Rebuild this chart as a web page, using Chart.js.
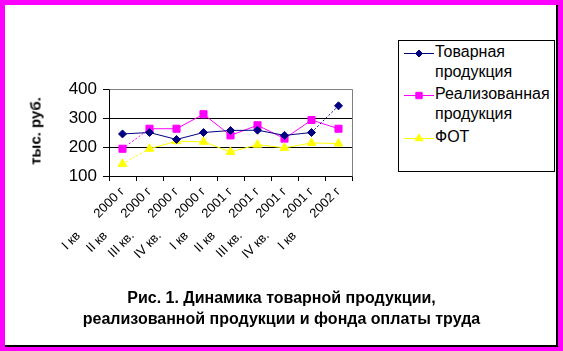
<!DOCTYPE html>
<html><head><meta charset="utf-8">
<script src="https://cdn.jsdelivr.net/npm/chart.js@4.4.1/dist/chart.umd.min.js"></script>
<style>
html,body{margin:0;padding:0;}
body{width:563px;height:351px;background:#FF00FF;position:relative;overflow:hidden;font-family:"Liberation Sans",Arial,sans-serif;}
#frame{position:absolute;left:5px;top:5px;width:553px;height:342px;background:#fff;border-right:2px solid #000;border-bottom:2px solid #000;box-sizing:border-box;}
#c{position:absolute;left:0;top:0;}
#ytitle{position:absolute;left:35px;top:131px;transform:translate(-50%,-50%) rotate(-90deg);font-weight:bold;font-size:15px;white-space:nowrap;}
#legend{position:absolute;left:398px;top:40px;width:157px;height:132px;border:1px solid #000;box-sizing:border-box;background:#fff;}
.li{position:absolute;left:36px;font-size:16px;line-height:20px;white-space:nowrap;}
.sw{position:absolute;left:5px;}
#title{position:absolute;left:0;width:563px;top:287px;text-align:center;font-weight:bold;font-size:16px;line-height:21px;}
</style></head>
<body>
<div id="frame"></div>
<canvas id="c" width="563" height="351"></canvas>
<div id="ytitle">тыс. руб.</div>
<div id="legend">
  <canvas class="sw" id="sw0" width="30" height="10" style="top:7px"></canvas>
  <div class="li" style="top:1px">Товарная<br>продукция</div>
  <canvas class="sw" id="sw1" width="30" height="10" style="top:49px"></canvas>
  <div class="li" style="top:43px">Реализованная<br>продукция</div>
  <canvas class="sw" id="sw2" width="30" height="10" style="top:92px"></canvas>
  <div class="li" style="top:86px">ФОТ</div>
</div>
<div id="title">Рис. 1. Динамика товарной продукции,<br>реализованной продукции и фонда оплаты труда</div>
<script>
const categories = ["I кв 2000 г","II кв 2000 г","III кв. 2000 г","IV кв. 2000 г","I кв 2001 г","II кв 2001 г","III кв. 2001 г","IV кв. 2001 г","I кв 2002 г"];
const tovarnaya = [245, 250, 226, 250, 257, 258, 240, 250, 342];
const realizovannaya = [194, 263, 263, 313, 240, 275, 229, 293, 263];
const fot = [142, 194, 220, 218, 183, 208, 197, 214, 212];
const yTicks = [100, 200, 300, 400];

const PLOT_L = 109, PLOT_R = 352, PLOT_T = 89, PLOT_B = 176;

const borderPlugin = {
  id: 'plotBorder',
  afterDraw(chart) {
    const a = chart.chartArea, ctx = chart.ctx;
    ctx.save();
    ctx.strokeStyle = '#808080';
    ctx.lineWidth = 1;
    ctx.beginPath();
    ctx.moveTo(Math.round(a.left) + 0.5, Math.round(a.top) + 0.5);
    ctx.lineTo(Math.round(a.right) + 0.5, Math.round(a.top) + 0.5);
    ctx.lineTo(Math.round(a.right) + 0.5, Math.round(a.bottom) + 0.5);
    ctx.stroke();
    ctx.restore();
  }
};

function dashFirst(ctx){ return ctx.p0DataIndex === 0 ? [2,2] : undefined; }
function dashLast(ctx){ return ctx.p1DataIndex === categories.length - 1 ? [2,2] : undefined; }

new Chart(document.getElementById('c'), {
  type: 'line',
  data: {
    labels: categories,
    datasets: [
      {label:'Товарная продукция', data: tovarnaya, borderColor:'#000080', backgroundColor:'#000080', borderWidth:1, pointStyle:'rectRot', pointRadius:4, pointHoverRadius:4, tension:0, segment:{borderDash: dashLast}},
      {label:'Реализованная продукция', data: realizovannaya, borderColor:'#FF00FF', backgroundColor:'#FF00FF', borderWidth:1, pointStyle:'rect', pointRadius:5, pointHoverRadius:5, tension:0, segment:{borderDash: dashFirst}},
      {label:'ФОТ', data: fot, borderColor:'#FFFF00', backgroundColor:'#FFFF00', borderWidth:1, pointStyle:'triangle', pointRadius:5, pointHoverRadius:5, tension:0, segment:{borderDash: dashFirst}}
    ]
  },
  options: {
    responsive:false, animation:false, devicePixelRatio:1,
    layout:{padding:{left:0, top:PLOT_T, right:563-PLOT_R, bottom:0}},
    plugins:{legend:{display:false}, tooltip:{enabled:false}},
    scales:{
      x:{
        offset:true,
        grid:{offset:true, drawOnChartArea:false, color:'#000', tickLength:5, tickColor:'#000'},
        border:{color:'#000', width:1},
        ticks:{color:'#000', font:{family:'"Liberation Sans", Arial', size:13}, minRotation:45, maxRotation:45, autoSkip:false, padding:3,
          callback(v, i){ return categories[i].replace(/ (\d{4})/, '       $1'); }},
        afterFit(s){ s.height = 351 - PLOT_B; }
      },
      y:{
        min:100, max:400,
        afterBuildTicks(s){ s.ticks = yTicks.map(v=>({value:v})); },
        grid:{color:(c)=> c.tick && c.tick.value===400 ? '#808080' : '#000', tickLength:6, tickColor:'#000', drawTicks:true},
        border:{color:'#000', width:1},
        ticks:{color:'#000', font:{family:'"Liberation Sans", Arial', size:17}, padding:6},
        afterFit(s){ s.width = PLOT_L; }
      }
    }
  },
  plugins:[borderPlugin]
});

function swatch(id, color, style, r){
  const cv = document.getElementById(id), ctx = cv.getContext('2d');
  ctx.strokeStyle = color; ctx.fillStyle = color; ctx.lineWidth = 1;
  ctx.beginPath(); ctx.moveTo(0,5.5); ctx.lineTo(30,5.5); ctx.stroke();
  Chart.helpers.drawPoint(ctx, {pointStyle:style, radius:r, rotation:0, borderWidth:1}, 15, 5.5);
}
swatch('sw0','#000080','rectRot',3.5);
swatch('sw1','#FF00FF','rect',4.5);
swatch('sw2','#FFFF00','triangle',4.5);
</script>
</body></html>
